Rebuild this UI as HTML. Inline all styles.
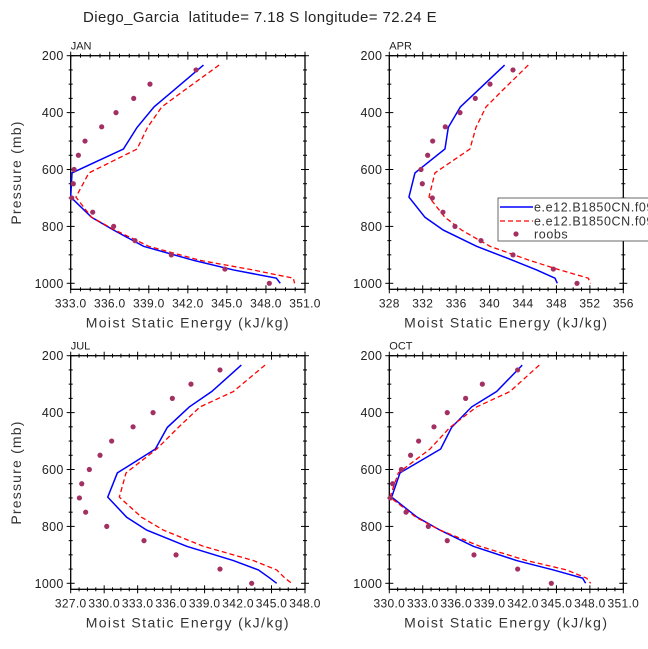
<!DOCTYPE html>
<html><head><meta charset="utf-8"><style>
body{margin:0;background:#fff}
svg{display:block;font-family:"Liberation Sans",sans-serif}
</style></head><body>
<svg id="c" width="648" height="649" viewBox="0 0 648 649">
<text x="260" y="22" text-anchor="middle" font-size="15" fill="#222" letter-spacing="0.4" style="white-space:pre">Diego_Garcia  latitude= 7.18 S longitude= 72.24 E</text>
</svg>
<script>
const P = [233, 326, 380, 452, 528, 612, 697, 768, 813, 870, 920, 953, 982, 1000];
const obsP = [250,300,350,400,450,500,550,600,650,700,750,800,850,900,950,1000];
const janBlue = [343.2,340.8,339.4,338.1,337.05,333.1,333.0,334.6,336.3,338.6,342.5,345.5,348.8,349.1];
const janRed = [344.4,341.6,340.0,338.9,338.1,334.4,333.4,334.6,336.4,339.0,343.0,347.0,350.1,350.2];
const janObs = [342.63,339.09,337.84,336.48,335.38,334.10,333.59,333.26,333.20,333.08,334.69,336.30,337.94,340.73,344.85,348.26];
const aprBlue = [341.8,338.45,336.5,335.06,334.66,331.07,330.35,332.27,334.46,338.45,342.84,345.63,347.83,348.1];
const aprRed = [344.63,341.4,339.57,338.37,337.65,333.46,332.75,334.66,336.66,340.05,344.83,348.42,351.81,352.09];
const aprObs = [342.8,340.05,338.29,336.46,334.7,333.19,332.59,331.79,331.95,333.15,334.42,335.86,338.97,342.8,347.63,350.46];
const julBlue = [342.29,339.64,337.63,335.66,334.59,331.18,330.32,332.02,333.81,337.4,341.58,343.82,344.86,345.46];
const julRed = [344.42,341.58,338.59,336.65,334.71,331.96,331.36,333.36,335.3,338.89,343.37,345.46,346.21,346.81];
const julObs = [340.38,337.78,336.11,334.38,332.59,330.67,329.63,328.67,327.99,327.78,328.34,330.23,333.57,336.44,340.38,343.22];
const octBlue = [341.93,339.63,337.39,335.59,334.61,330.96,330.21,332.51,334.55,337.54,341.43,344.72,347.35,347.62];
const octRed = [343.46,340.83,337.84,335.44,333.65,330.81,330.06,332.39,334.55,338.14,342.32,345.91,347.71,348.07];
const octObs = [341.52,338.35,336.85,335.2,334.01,332.63,331.91,331.08,330.3,330.09,331.5,333.5,335.2,337.6,341.52,344.54];
const janTicks = ["333.0","336.0","339.0","342.0","345.0","348.0","351.0"];
const aprTicks = ["328","332","336","340","344","348","352","356"];
const julTicks = ["327.0","330.0","333.0","336.0","339.0","342.0","345.0","348.0"];
const octTicks = ["330.0","333.0","336.0","339.0","342.0","345.0","348.0","351.0"];
const yTicks = [200,400,600,800,1000];
const legendLabels = ["e.e12.B1850CN.f09","e.e12.B1850CN.f09","roobs"];

const NS="http://www.w3.org/2000/svg";
const svg=document.getElementById('c');
function mk(tag,attrs,parent){const e=document.createElementNS(NS,tag);for(const k in attrs)e.setAttribute(k,attrs[k]);(parent||svg).appendChild(e);return e;}

function panel(key,label,x0,x1,y0,ticks,blue,red,obs){
  const g=mk('g',{});
  
  
  const xmin=parseFloat(ticks[0]),xmax=parseFloat(ticks[ticks.length-1]);
  const y200=y0, y1000=y0+227.6, yb=y0+233.6;
  const sx=v=>x0+(v-xmin)/(xmax-xmin)*(x1-x0);
  const sy=p=>y200+(p-200)/800*(y1000-y200);
  const frame=mk('rect',{x:x0,y:y0,width:x1-x0,height:yb-y0,fill:'none',stroke:'#000','stroke-width':1.3},g);
  
  
  const n=ticks.length-1;
  for(let i=0;i<=n*4;i++){
    const v=xmin+(xmax-xmin)*i/(n*4); const x=sx(v); const L=(i%4==0)?4:2;
    mk('line',{x1:x,x2:x,y1:y0-L,y2:y0+L,stroke:'#000','stroke-width':1},g);
    mk('line',{x1:x,x2:x,y1:yb-L,y2:yb+L,stroke:'#000','stroke-width':1},g);
  }
  ticks.forEach((t,i)=>{
    const tx=mk('text',{x:sx(parseFloat(t)),y:yb+18,'text-anchor':'middle','font-size':12,fill:'#222','letter-spacing':'0.3'},g);
    tx.textContent=t;
    
    
  });
  for(let p=200;p<=1000;p+=50){
    const y=sy(p); const L=(p%200==0)?4:2;
    mk('line',{x1:x0-L,x2:x0+L,y1:y,y2:y,stroke:'#000','stroke-width':1},g);
    mk('line',{x1:x1-L,x2:x1+L,y1:y,y2:y,stroke:'#000','stroke-width':1},g);
  }
  yTicks.forEach(p=>{
    const tx=mk('text',{x:x0-7,y:sy(p)+4.5,'text-anchor':'end','font-size':12.5,fill:'#222','letter-spacing':'0.3'},g);
    tx.textContent=p;
    
    
  });
  const lb=mk('text',{x:x0,y:y0-6,'font-size':11,fill:'#222'},g);
  lb.textContent=label;
  
  
  const xt=mk('text',{x:(x0+x1)/2,y:yb+38,'text-anchor':'middle','font-size':14,fill:'#333','letter-spacing':'1.4'},g);
  xt.textContent='Moist Static Energy (kJ/kg)';
  
  
  if(x0<200){
    const yt=mk('text',{x:0,y:0,'text-anchor':'middle','font-size':14,fill:'#333','letter-spacing':'1.2',transform:`translate(21,${(y0+yb)/2}) rotate(-90)`},g);
    yt.textContent='Pressure (mb)';
    
    
  }
  const pb=mk('polyline',{points:blue.map((v,i)=>sx(v)+','+sy(P[i])).join(' '),fill:'none',stroke:'#0000ff','stroke-width':1.5},g);
  
  
  const pr=mk('polyline',{points:red.map((v,i)=>sx(v)+','+sy(P[i])).join(' '),fill:'none',stroke:'#ff0000','stroke-width':1.3,'stroke-dasharray':'5,3'},g);
  
  
  obs.forEach((v,i)=>{
    const c=mk('circle',{cx:sx(v),cy:sy(obsP[i]),r:2.6,fill:'#a33062'},g);
    
    
  });
}
panel('jan','JAN',70.7,305,55.7,janTicks,janBlue,janRed,janObs);
panel('apr','APR',389.3,623.3,55.7,aprTicks,aprBlue,aprRed,aprObs);
panel('jul','JUL',70.7,305,355.7,julTicks,julBlue,julRed,julObs);
panel('oct','OCT',389.3,623.3,355.7,octTicks,octBlue,octRed,octObs);

const lg=mk('g',{});


mk('rect',{x:498,y:198,width:160,height:43,fill:'#fff',stroke:'#444','stroke-width':0.8},lg);
const rows=[207,221,234];
mk('line',{x1:500,x2:533,y1:rows[0],y2:rows[0],stroke:'#0000ff','stroke-width':1.5},lg);
mk('line',{x1:500,x2:533,y1:rows[1],y2:rows[1],stroke:'#ff0000','stroke-width':1.3,'stroke-dasharray':'5,3'},lg);
mk('circle',{cx:516,cy:rows[2],r:2.6,fill:'#a33062'},lg);
legendLabels.forEach((t,i)=>{
  const tx=mk('text',{x:534,y:rows[i]+4.5,'font-size':12.5,fill:'#333','letter-spacing':'0.6'},lg);
  tx.textContent=t;
  
  
});
</script>
</body></html>
